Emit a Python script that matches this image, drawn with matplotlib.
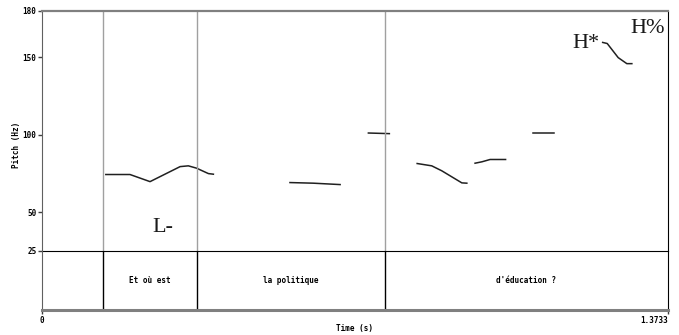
import matplotlib
matplotlib.use('Agg')
import matplotlib.pyplot as plt

# Durée totale et frontières des intervalles (s)
T_END = 1.3733
boundaries = [0.134, 0.340, 0.7525]
words = ["Et où est", "la politique", "d'éducation ?"]

# Segments de pitch (temps en s, F0 en Hz)
seg_times = [
    [0.140, 0.193, 0.237, 0.303, 0.321, 0.339, 0.365, 0.376],
    [0.544, 0.595, 0.654],
    [0.716, 0.762],
    [0.823, 0.855, 0.877, 0.921, 0.932],
    [0.950, 0.965, 0.983, 1.017],
    [1.078, 1.124],
    [1.230, 1.240, 1.264, 1.283, 1.294],
]
seg_hz = [
    [74.4, 74.4, 69.8, 79.5, 80.0, 78.5, 75.0, 74.6],
    [69.2, 68.8, 67.9],
    [101.2, 100.8],
    [81.5, 80.0, 76.8, 69.0, 68.8],
    [81.7, 82.6, 84.1, 84.1],
    [101.0, 101.0],
    [159.7, 159.0, 149.9, 146.0, 146.0],
]
yticks = [25, 50, 100, 150, 180]

# Étiquettes tonales (temps, Hz)
tones = [("L-", 0.265, 40), ("H*", 1.193, 159), ("H%", 1.329, 168.5)]

W, H = 679, 335
fig = plt.figure(figsize=(W / 100, H / 100), dpi=100)
x0, x1 = 42 / W, 668 / W
ax = fig.add_axes([x0, 1 - 251 / H, x1 - x0, (251 - 11) / H])
tier = fig.add_axes([x0, 1 - 310 / H, x1 - x0, (310 - 251) / H])
tier.patch.set_alpha(0)

mono = dict(family='DejaVu Sans Mono', fontweight='bold', fontsize=5.5)

for t, f in zip(seg_times, seg_hz):
    ax.plot(t, f, color='#202020', lw=1.1)
for b in boundaries:
    ax.axvline(b, color='#a0a0a0', lw=1)
    tier.axvline(b, color='black', lw=1)

ax.set_xlim(0, T_END)
ax.set_ylim(25, 180)
ax.set_yticks(yticks)
ax.set_yticklabels([str(v) for v in yticks], **mono)
ax.set_xticks([])
ax.tick_params(axis='y', length=3, width=1, pad=1, color='#404040')
fig.text(16 / W, 1 - 145 / H, "Pitch (Hz)", rotation=90, ha='center', va='center', **mono)
ax.spines['top'].set_color('#808080')
ax.spines['top'].set_linewidth(1.6)
ax.spines['left'].set_color('#606060')
ax.spines['right'].set_color('black')
ax.spines['bottom'].set_color('black')
ax.spines['bottom'].set_zorder(5)

for txt, t, f in tones:
    ax.text(t, f, txt, family='Liberation Serif', fontsize=16,
            ha='center', va='center', color='#1a1a1a')

tier.set_xlim(0, T_END)
tier.set_ylim(0, 1)
tier.set_yticks([])
edges = [0] + boundaries + [T_END]
for i, w in enumerate(words):
    mid = (edges[i + 1] + edges[i + 2]) / 2
    tier.text(mid, 0.5, w, ha='center', va='center', **mono)
tier.set_xticks([0, T_END])
tier.set_xticklabels(['0', '1.3733'], **mono)
tier.get_xticklabels()[1].set_ha('right')
tier.tick_params(axis='x', length=3, width=1, pad=1, color='#404040')
fig.text(355 / W, 1 - 328 / H, "Time (s)", ha='center', va='center', **mono)
tier.spines['top'].set_visible(False)
tier.spines['bottom'].set_color('#808080')
tier.spines['bottom'].set_linewidth(2.2)
tier.spines['left'].set_color('#606060')
tier.spines['right'].set_color('black')

fig.savefig('out.png', dpi=100)
